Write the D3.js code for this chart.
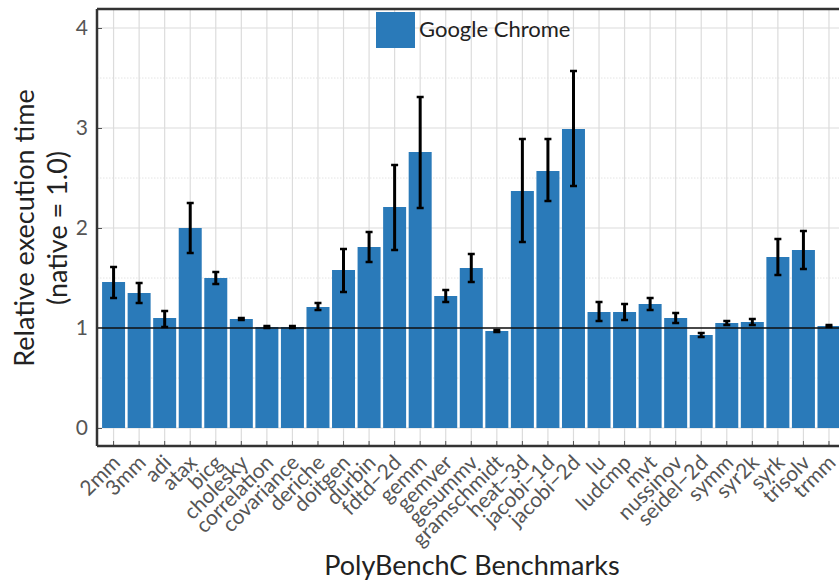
<!DOCTYPE html>
<html>
<head>
<meta charset="utf-8">
<script src="https://cdn.jsdelivr.net/npm/d3@7"></script>
<style>
  html, body { margin: 0; padding: 0; background: #fff; }
  svg { display: block; font-family: Lato, "Open Sans", sans-serif; }
</style>
</head>
<body>
<svg id="chart" width="839" height="583"></svg>
<script>
const benchmarks = ["2mm","3mm","adi","atax","bicg","cholesky","correlation","covariance","deriche","doitgen","durbin","fdtd\u22122d","gemm","gemver","gesummv","gramschmidt","heat\u22123d","jacobi\u22121d","jacobi\u22122d","lu","ludcmp","mvt","nussinov","seidel\u22122d","symm","syr2k","syrk","trisolv","trmm"];
const means   = [1.46,1.35,1.10,2.00,1.50,1.09,1.01,1.01,1.21,1.58,1.81,2.21,2.76,1.32,1.60,0.97,2.37,2.57,2.99,1.16,1.16,1.24,1.10,0.93,1.05,1.06,1.71,1.78,1.02];
const errLow  = [1.30,1.25,1.01,1.75,1.44,1.08,1.00,1.00,1.18,1.36,1.66,1.78,2.20,1.26,1.46,0.96,1.86,2.27,2.42,1.07,1.08,1.18,1.05,0.91,1.03,1.03,1.53,1.59,1.01];
const errHigh = [1.61,1.45,1.17,2.25,1.56,1.10,1.02,1.02,1.25,1.79,1.96,2.63,3.31,1.38,1.74,0.98,2.89,2.89,3.57,1.26,1.24,1.30,1.15,0.95,1.07,1.09,1.89,1.97,1.03];
const yTicks = [0,1,2,3,4];
const yMinorTicks = [0.5,1.5,2.5,3.5];
const seriesName = "Google Chrome";

const svg = d3.select("#chart");
const W = 839, H = 583;
const plot = {left: 97, top: 9, right: 846, bottom: 446};

svg.append("rect").attr("width", W).attr("height", H).attr("fill", "#fff");

const x = d3.scaleBand().domain(benchmarks)
  .range([100.8, 841.75]).paddingInner(0.1).paddingOuter(0.05);
const y = d3.scaleLinear().domain([-0.18, 4.19]).range([plot.bottom, plot.top]);

const g = svg.append("g");

// minor horizontal grid
g.selectAll(".minor").data(yMinorTicks).join("line")
  .attr("x1", plot.left).attr("x2", plot.right)
  .attr("y1", d => y(d)).attr("y2", d => y(d))
  .attr("stroke", "#e4e4e4").attr("stroke-width", 1).attr("stroke-dasharray", "1.5,1.5");
// major horizontal grid
g.selectAll(".major").data(yTicks).join("line")
  .attr("x1", plot.left).attr("x2", plot.right)
  .attr("y1", d => y(d)).attr("y2", d => y(d))
  .attr("stroke", "#dcdcdc").attr("stroke-width", 1.2);
// vertical grid
g.selectAll(".vgrid").data(benchmarks).join("line")
  .attr("x1", d => x(d) + x.bandwidth()/2).attr("x2", d => x(d) + x.bandwidth()/2)
  .attr("y1", plot.top).attr("y2", plot.bottom)
  .attr("stroke", "#dcdcdc").attr("stroke-width", 1.2);

// bars
const barColor = "#2a7ab9";
g.selectAll(".bar").data(benchmarks).join("rect")
  .attr("x", d => x(d)).attr("width", x.bandwidth())
  .attr("y", (d,i) => y(means[i])).attr("height", (d,i) => y(0) - y(means[i]))
  .attr("fill", barColor);

// reference line at 1
g.append("line").attr("x1", plot.left).attr("x2", plot.right)
  .attr("y1", y(1)).attr("y2", y(1)).attr("stroke", "#111").attr("stroke-width", 1.5);

// error bars
const eb = g.selectAll(".err").data(benchmarks).join("g");
eb.append("line")
  .attr("x1", d => x(d) + x.bandwidth()/2).attr("x2", d => x(d) + x.bandwidth()/2)
  .attr("y1", (d,i) => y(errLow[i])).attr("y2", (d,i) => y(errHigh[i]))
  .attr("stroke", "#000").attr("stroke-width", 3);
[errLow, errHigh].forEach(arr => {
  eb.append("line")
    .attr("x1", d => x(d) + x.bandwidth()/2 - 3.5).attr("x2", d => x(d) + x.bandwidth()/2 + 3.5)
    .attr("y1", (d,i) => y(arr[i])).attr("y2", (d,i) => y(arr[i]))
    .attr("stroke", "#000").attr("stroke-width", 2.5);
});

// axes
const yAxis = d3.axisLeft(y).tickValues(yTicks).tickSize(-5).tickPadding(9).tickFormat(d3.format("d"));
const ya = svg.append("g").attr("transform", `translate(${plot.left},0)`).call(yAxis);
ya.select(".domain").remove();
ya.selectAll(".tick line").attr("stroke", "#555").attr("stroke-width", 1);
ya.selectAll(".tick text").attr("font-size", 21).attr("fill", "#555").attr("font-family", "Lato, sans-serif");

const xAxis = d3.axisBottom(x).tickSize(-5).tickPadding(0);
const xa = svg.append("g").attr("transform", `translate(0,${plot.bottom})`).call(xAxis);
xa.select(".domain").remove();
xa.selectAll(".tick line").attr("stroke", "#555").attr("stroke-width", 1);
xa.selectAll(".tick text")
  .attr("font-size", 21).attr("fill", "#555").attr("font-family", "Lato, sans-serif")
  .attr("text-anchor", "end")
  .attr("dy", null).attr("y", 0)
  .attr("transform", "translate(8,18) rotate(-45)");

// spines
svg.append("line").attr("x1", plot.left).attr("x2", plot.left).attr("y1", plot.top).attr("y2", plot.bottom)
  .attr("stroke", "#333").attr("stroke-width", 2.5);
svg.append("line").attr("x1", plot.left).attr("x2", plot.right).attr("y1", plot.top).attr("y2", plot.top)
  .attr("stroke", "#333").attr("stroke-width", 2.5);
svg.append("line").attr("x1", plot.left).attr("x2", plot.right).attr("y1", plot.bottom).attr("y2", plot.bottom)
  .attr("stroke", "#333").attr("stroke-width", 2.5);

// legend
const lg = svg.append("g").attr("transform", "translate(376,12)");
lg.append("rect").attr("width", 39).attr("height", 36).attr("fill", barColor);
lg.append("text").attr("x", 43).attr("y", 25).attr("font-size", 22).attr("fill", "#222").text(seriesName);

// axis labels
svg.append("text").attr("x", 472).attr("y", 575).attr("text-anchor", "middle")
  .attr("font-size", 27).attr("fill", "#222").text("PolyBenchC Benchmarks");
const yl = svg.append("text").attr("transform", "translate(0,228) rotate(-90)")
  .attr("text-anchor", "middle").attr("font-size", 27).attr("fill", "#222");
yl.append("tspan").attr("x", 0).attr("y", 34).text("Relative execution time");
yl.append("tspan").attr("x", 0).attr("y", 67).text("(native = 1.0)");
</script>
</body>
</html>
